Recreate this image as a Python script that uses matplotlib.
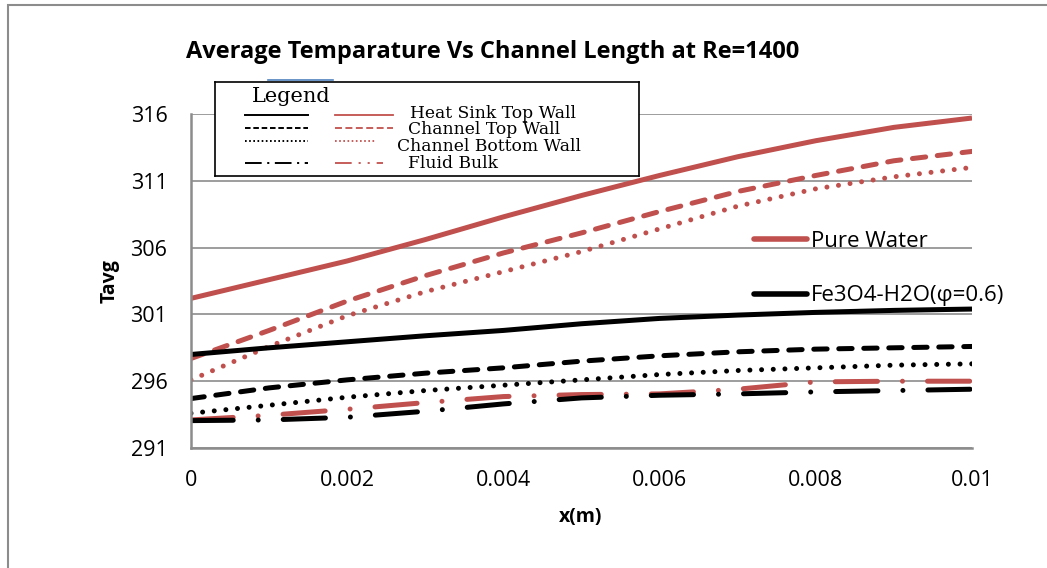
import matplotlib
matplotlib.use("Agg")
import matplotlib.pyplot as plt
from matplotlib.lines import Line2D
from matplotlib.patches import Rectangle

plt.rcParams['font.family'] = ['Open Sans', 'DejaVu Sans']
plt.rcParams['lines.scale_dashes'] = False

# x position along channel (m)
x = [0, 0.001, 0.002, 0.003, 0.004, 0.005, 0.006, 0.007, 0.008, 0.009, 0.01]

# pure water
pw_hs_top = [302.2, 303.6, 305.0, 306.6, 308.3, 309.9, 311.4, 312.8, 314.0, 315.0, 315.7]
pw_ch_top = [297.7, 299.8, 302.0, 303.9, 305.6, 307.1, 308.7, 310.2, 311.4, 312.5, 313.2]
pw_ch_bot = [296.1, 298.6, 300.9, 302.7, 304.2, 305.7, 307.4, 309.1, 310.4, 311.3, 312.0]
pw_bulk = [293.1, 293.45, 293.9, 294.4, 294.85, 295.0, 295.05, 295.4, 295.95, 296.0, 296.0]

# Fe3O4-H2O (phi=0.6)
nf_hs_top = [298.0, 298.5, 298.95, 299.4, 299.8, 300.3, 300.7, 300.95, 301.15, 301.3, 301.4]
nf_ch_top = [294.7, 295.5, 296.1, 296.6, 297.0, 297.5, 297.9, 298.2, 298.4, 298.5, 298.6]
nf_ch_bot = [293.6, 294.2, 294.8, 295.3, 295.7, 296.1, 296.5, 296.8, 297.0, 297.2, 297.3]
nf_bulk = [293.05, 293.1, 293.3, 293.75, 294.3, 294.75, 294.95, 295.05, 295.2, 295.3, 295.4]

yticks = [291, 296, 301, 306, 311, 316]
xticks = [0, 0.002, 0.004, 0.006, 0.008, 0.01]
xtick_labels = ['0', '0.002', '0.004', '0.006', '0.008', '0.01']

RED = '#C0504D'
GRID = '#8c8c8c'
W, H = 1047, 568

fig = plt.figure(figsize=(W / 100, H / 100), dpi=100)
# outer frame of the excel chart
fig.add_artist(Rectangle((8 / W, -0.05), 1.1, 1 - 5 / H + 0.05, transform=fig.transFigure,
                         fill=False, edgecolor=GRID, lw=1.5))

ax = fig.add_axes([191 / W, 1 - 448 / H, (972 - 191) / W, (448 - 114) / H])
ax.set_xlim(0, 0.01)
ax.set_ylim(291, 316)
ax.set_yticks(yticks)
ax.set_xticks(xticks)
ax.set_xticklabels(xtick_labels)
ax.tick_params(length=0, labelsize=15.5)
ax.tick_params(axis='y', pad=17)
ax.tick_params(axis='x', pad=16)
ax.grid(axis='y', color=GRID, lw=1.2)
ax.set_axisbelow(True)
for s in ['top', 'right']:
    ax.spines[s].set_visible(False)
for s in ['left', 'bottom']:
    ax.spines[s].set_color(GRID)
    ax.spines[s].set_linewidth(1.8)

lw = 3.6
dashed = (0, (9.6, 8.4))
dotted = (0, (0.01, 8.4))
dashdot = (0, (30.4, 18, 0.01, 18))

kw = dict(lw=lw, dash_capstyle='round', solid_capstyle='butt')
ax.plot(x, pw_hs_top, color=RED, **kw)
ax.plot(x, pw_ch_top, color=RED, ls=dashed, **kw)
ax.plot(x, pw_ch_bot, color=RED, ls=dotted, **kw)
ax.plot(x, pw_bulk, color=RED, ls=dashdot, **kw)
ax.plot(x, nf_hs_top, color='black', **kw)
ax.plot(x, nf_ch_top, color='black', ls=dashed, **kw)
ax.plot(x, nf_ch_bot, color='black', ls=dotted, **kw)
ax.plot(x, nf_bulk, color='black', ls=dashdot, **kw)

# excel series legend
handles = [Line2D([], [], color=RED, lw=4, solid_capstyle='round'),
           Line2D([], [], color='black', lw=4, solid_capstyle='round')]
ax.legend(handles, ['Pure Water', 'Fe3O4-H2O(φ=0.6)'], loc='upper left',
          bbox_to_anchor=(754 / W, 1 - 231 / H), bbox_transform=fig.transFigure,
          frameon=False, fontsize=16, handlelength=2.4, handletextpad=0.15,
          borderpad=0, borderaxespad=0, labelspacing=1.5)

# titles
fig.text(186 / W, 1 - 52 / H, 'Average Temparature Vs Channel Length at Re=1400',
         fontsize=17, fontweight='bold', va='center', ha='left')
fig.text(581 / W, 1 - 517 / H, 'x(m)', fontsize=14, fontweight='bold', ha='center', va='center')
fig.text(110 / W, 1 - 281 / H, 'Tavg', fontsize=14, fontweight='bold', ha='center', va='center',
         rotation=90)

# pasted line-style key box (pixel coordinates inside the box)
bx = fig.add_axes([215 / W, 1 - 176 / H, (639 - 215) / W, (176 - 82) / H])
bx.set_xlim(0, 424)
bx.set_ylim(94, 0)
bx.set_xticks([])
bx.set_yticks([])
for s in bx.spines.values():
    s.set_color('black')
    s.set_linewidth(1.2)
fig.add_artist(Line2D([268 / W, 333 / W], [1 - 80 / H, 1 - 80 / H], transform=fig.transFigure,
                      color='#4F81BD', lw=1.2))

serif = ['DejaVu Serif']
bx.text(37, 15, 'Legend', family=serif, fontsize=15, va='center', ha='left')
rows = [33, 46, 59, 81]
names = ['Heat Sink Top Wall', 'Channel Top Wall', 'Channel Bottom Wall', 'Fluid Bulk']
name_x = [195, 193, 182, 193]
name_y = [31, 47.5, 64.5, 81]
key_styles = ['-', (0, (4, 2)), (0, (1.2, 1.8)), (0, (12, 4, 1.5, 4))]
red_styles = ['-', (0, (5, 2.5)), (0, (1.2, 1.8)), (0, (12, 5, 1.5, 5, 1.5, 5))]
red_end = [178, 178, 160, 168]
for i in range(4):
    bx.plot([30, 93], [rows[i], rows[i]], color='black', lw=1.4, ls=key_styles[i])
    bx.plot([120, red_end[i]], [rows[i], rows[i]], color=RED, lw=1.3, ls=red_styles[i])
    bx.text(name_x[i], name_y[i], names[i], family=serif, fontsize=12.3, va='center', ha='left')

fig.savefig('out.png', dpi=100)
